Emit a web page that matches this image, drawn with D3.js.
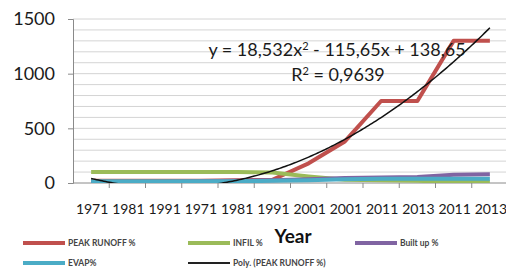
<!DOCTYPE html>
<html>
<head>
<meta charset="utf-8">
<script src="https://cdn.jsdelivr.net/npm/d3@7"></script>
<style>
  body { margin: 0; background: #fff; }
  text { font-family: Lato, "Open Sans", sans-serif; }
</style>
</head>
<body>
<div id="chart-area"></div>
<script>
//============================DATA============================
var years = ["1971","1981","1991","1971","1981","1991","2001","2001","2011","2013","2011","2013"];
var peakRunoff = [20, 20, 20, 20, 25, 30, 180, 380, 750, 750, 1300, 1300];
var infil      = [100, 100, 100, 100, 100, 95, 60, 30, 25, 20, 10, 10];
var builtUp    = [10, 10, 10, 15, 20, 25, 35, 45, 50, 55, 75, 80];
var evap       = [15, 15, 15, 15, 15, 20, 25, 35, 40, 40, 40, 40];
// poly trendline coefficients as printed on the chart (a, b, c)
var trendCoef = [18.532, -115.65, 138.65];
var yTicks = [0, 500, 1000, 1500];

//============================GLOBALS============================
var margins = { left: 73, right: -2, top: 19, bottom: 86 };
var width = 506 - margins.left - margins.right;
var height = 269 - margins.top - margins.bottom;

var svg = d3.select("#chart-area")
    .append("svg")
    .attr("width", 506)
    .attr("height", 269);

var g = svg.append("g")
    .attr("transform", "translate(" + margins.left + ", " + margins.top + ")");

var x = d3.scaleBand()
    .domain(d3.range(years.length))
    .range([0, width]);

var y = d3.scaleLinear()
    .domain([0, 1500])
    .range([height, 0]);

// gridlines every 100
g.append("g")
    .attr("class", "grid")
    .selectAll("line")
    .data(d3.range(100, 1501, 100))
    .enter()
    .append("line")
    .attr("x1", 0)
    .attr("x2", width)
    .attr("y1", function(d){ return y(d); })
    .attr("y2", function(d){ return y(d); })
    .attr("stroke", "#d4d4d4")
    .attr("stroke-width", 1);

// y axis
var yAxisCall = d3.axisLeft(y)
    .tickValues(yTicks)
    .tickFormat(d3.format("d"))
    .tickSize(5)
    .tickPadding(13);

var yAxis = g.append("g")
    .attr("class", "y axis")
    .call(yAxisCall);
yAxis.select(".domain").attr("stroke", "#8a8a8a");
yAxis.selectAll(".tick line").attr("stroke", "#8a8a8a");
yAxis.selectAll("text")
    .attr("font-size", "18px")
    .attr("fill", "#1a1a1a")
    .attr("font-family", "Lato, sans-serif");

// x axis: ticks between categories
var xAxis = g.append("g")
    .attr("class", "x axis")
    .attr("transform", "translate(0, " + height + ")");

xAxis.append("line")
    .attr("x1", 0)
    .attr("x2", width)
    .attr("stroke", "#8a8a8a");

xAxis.selectAll(".xtick")
    .data(d3.range(1, years.length + 1))
    .enter()
    .append("line")
    .attr("class", "xtick")
    .attr("x1", function(d){ return d * x.step(); })
    .attr("x2", function(d){ return d * x.step(); })
    .attr("y1", 0)
    .attr("y2", 5)
    .attr("stroke", "#8a8a8a");

xAxis.selectAll(".xlabel")
    .data(years)
    .enter()
    .append("text")
    .attr("class", "xlabel")
    .attr("x", function(d, i){ return x(i) + x.bandwidth() / 2 + 1; })
    .attr("y", 31)
    .attr("text-anchor", "middle")
    .attr("font-size", "14px")
    .attr("fill", "#1a1a1a")
    .text(function(d){ return d; });

// axis title
svg.append("text")
    .attr("x", 293)
    .attr("y", 243)
    .attr("text-anchor", "middle")
    .attr("font-size", "19px")
    .attr("font-weight", "bold")
    .attr("fill", "#111")
    .text("Year");

// clip for lines
svg.append("clipPath")
    .attr("id", "plot-clip")
    .append("rect")
    .attr("x", 0)
    .attr("y", -2)
    .attr("width", width)
    .attr("height", height + 2);

var plot = g.append("g").attr("clip-path", "url(#plot-clip)");

var series = [
    { name: "PEAK RUNOFF %", values: peakRunoff, color: "#c0504d" },
    { name: "INFIL %", values: infil, color: "#9bbb59" },
    { name: "Built up %", values: builtUp, color: "#8064a2" },
    { name: "EVAP%", values: evap, color: "#4bacc6" }
];

var line = d3.line()
    .x(function(d, i){ return x(i) + x.bandwidth() / 2; })
    .y(function(d){ return y(d); });

plot.selectAll(".series")
    .data(series)
    .enter()
    .append("path")
    .attr("class", "series")
    .attr("d", function(d){ return line(d.values); })
    .attr("fill", "none")
    .attr("stroke", function(d){ return d.color; })
    .attr("stroke-width", 4)
    .attr("stroke-linejoin", "round");

// polynomial trendline of peak runoff, x = 1..12
var trendX = d3.scaleLinear()
    .domain([1, years.length])
    .range([x(0) + x.bandwidth() / 2, x(years.length - 1) + x.bandwidth() / 2]);

var trendPts = d3.range(1, years.length + 0.001, 0.05).map(function(t){
    return [t, trendCoef[0] * t * t + trendCoef[1] * t + trendCoef[2]];
});

plot.append("path")
    .attr("d", d3.line()
        .x(function(d){ return trendX(d[0]); })
        .y(function(d){ return y(d[1]); })(trendPts))
    .attr("fill", "none")
    .attr("stroke", "#111")
    .attr("stroke-width", 1.5);

// trendline equation
var eq = svg.append("text")
    .attr("x", 337)
    .attr("y", 56)
    .attr("text-anchor", "middle")
    .attr("font-size", "18px")
    .attr("fill", "#1a1a1a");
eq.append("tspan").text("y = 18,532x");
eq.append("tspan").attr("dy", -6).attr("font-size", "11px").text("2");
eq.append("tspan").attr("dy", 6).text(" - 115,65x + 138,65");

var r2 = svg.append("text")
    .attr("x", 338)
    .attr("y", 81)
    .attr("text-anchor", "middle")
    .attr("font-size", "18px")
    .attr("fill", "#1a1a1a");
r2.append("tspan").text("R");
r2.append("tspan").attr("dy", -6).attr("font-size", "11px").text("2");
r2.append("tspan").attr("dy", 6).text(" = 0,9639");

// legend
var legendItems = [
    { name: "PEAK RUNOFF %", color: "#c0504d", w: 4, lx: 23, ly: 243 },
    { name: "INFIL %", color: "#9bbb59", w: 4, lx: 188, ly: 243 },
    { name: "Built up %", color: "#8064a2", w: 4, lx: 355, ly: 243 },
    { name: "EVAP%", color: "#4bacc6", w: 4, lx: 23, ly: 263 },
    { name: "Poly. (PEAK RUNOFF %)", color: "#222", w: 2, lx: 188, ly: 263 }
];

var legend = svg.selectAll(".legend")
    .data(legendItems)
    .enter()
    .append("g")
    .attr("class", "legend")
    .attr("transform", function(d){ return "translate(" + d.lx + ", " + d.ly + ")"; });

legend.append("line")
    .attr("x1", 0)
    .attr("x2", 42)
    .attr("stroke", function(d){ return d.color; })
    .attr("stroke-width", function(d){ return d.w; });

legend.append("text")
    .attr("x", 45)
    .attr("y", 3)
    .attr("font-size", "8.5px")
    .attr("font-weight", "bold")
    .attr("fill", "#444")
    .text(function(d){ return d.name; });
</script>
</body>
</html>
